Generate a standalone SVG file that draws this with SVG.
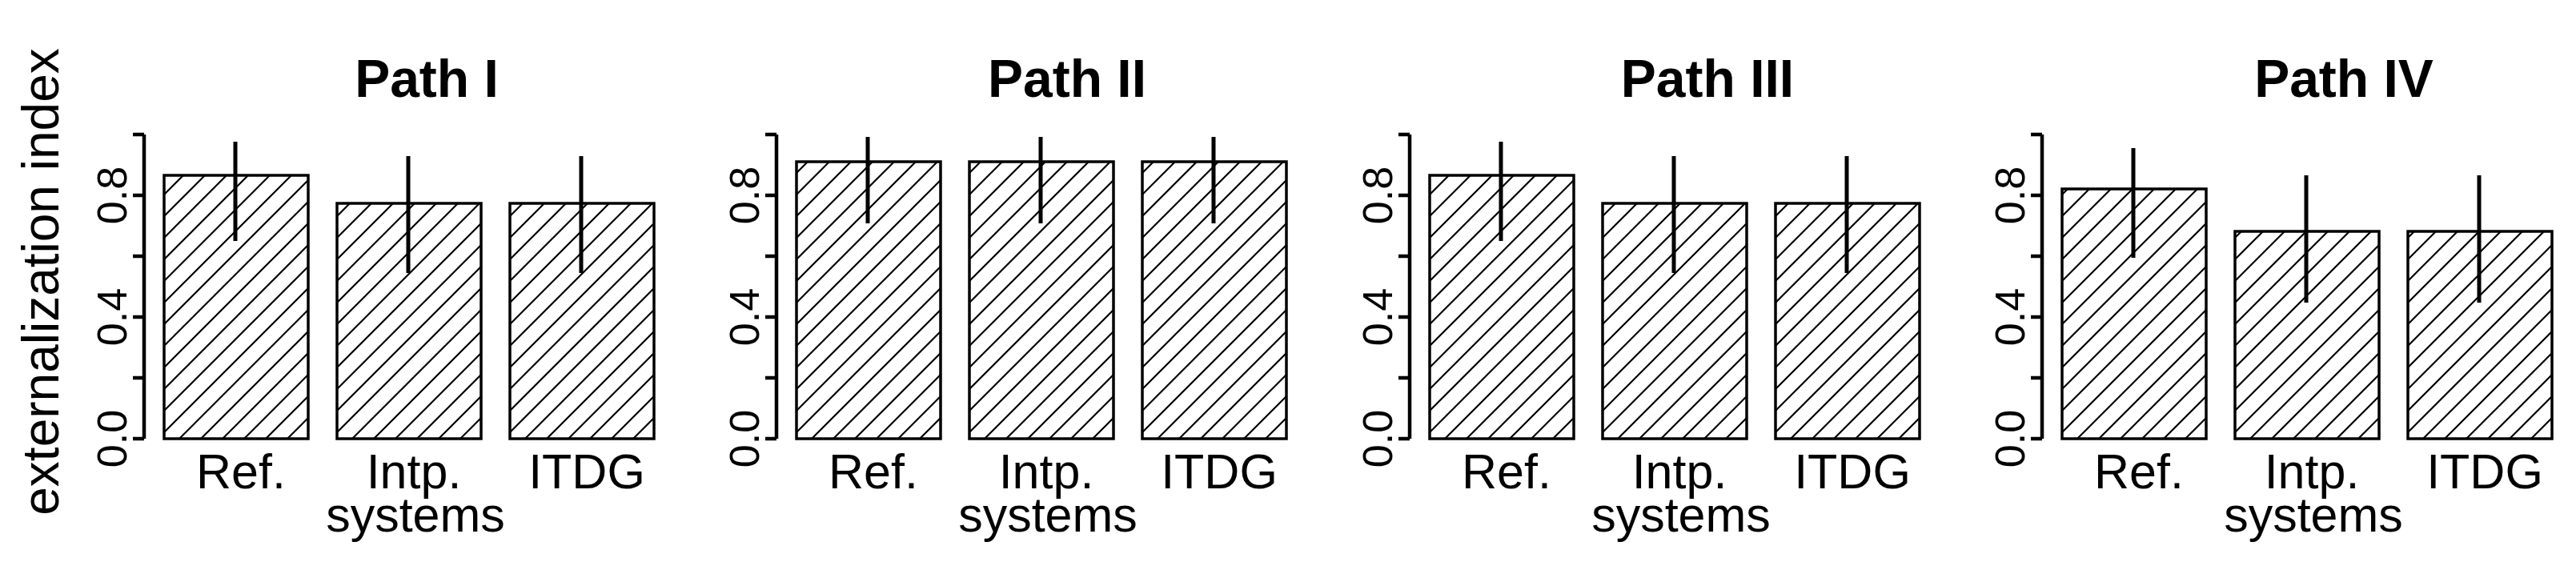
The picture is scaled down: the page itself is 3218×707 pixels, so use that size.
<svg xmlns="http://www.w3.org/2000/svg" width="3218" height="707" viewBox="0 0 3218 707">
<style>
text{font-family:"Liberation Sans",Arial,sans-serif;fill:#000}
.t{font-size:66px;font-weight:bold;text-anchor:middle}
.c{font-size:61px;text-anchor:middle}
.k{font-size:52px;text-anchor:middle}
.ax{stroke:#000;stroke-width:4.5;fill:none}
.bar{fill:url(#h);stroke:#000;stroke-width:3.5}
.err{stroke:#000;stroke-width:5}
</style>
<defs>
<pattern id="h" patternUnits="userSpaceOnUse" width="27" height="27">
<path d="M-2,29 L29,-2 M-2,2 L2,-2 M25,29 L29,25" stroke="#000" stroke-width="2.2"/>
</pattern>
<g id="axis">
<path class="ax" d="M0,168 V548 M-14,168 H0 M-14,244 H0 M-14,320 H0 M-14,396 H0 M-14,472 H0 M-14,548 H0"/>
<text class="k" transform="translate(-22,548) rotate(-90)">0.0</text>
<text class="k" transform="translate(-22,396) rotate(-90)">0.4</text>
<text class="k" transform="translate(-22,244) rotate(-90)">0.8</text>
</g>
<g id="cats">
<text class="c" x="96" y="610">Ref.</text>
<text class="c" x="312" y="610">Intp.</text>
<text class="c" x="314" y="664">systems</text>
<text class="c" x="528" y="610">ITDG</text>
</g>
</defs>
<text transform="translate(73,352) rotate(-90)" style="font-size:64px;text-anchor:middle">externalization index</text>

<g id="panel1" transform="translate(205,0)">
<use href="#axis" x="-25"/>
<rect class="bar" x="0" y="219" width="180" height="329"/>
<rect class="bar" x="216" y="254" width="180" height="294"/>
<rect class="bar" x="432" y="254" width="180" height="294"/>
<path class="err" d="M89,177 V301 M305,195 V341 M521,195 V341"/>
<use href="#cats"/>
<text class="t" x="328" y="121">Path I</text>
</g>
<g id="panel2" transform="translate(995,0)">
<use href="#axis" x="-25"/>
<rect class="bar" x="0" y="202" width="180" height="346"/>
<rect class="bar" x="216" y="202" width="180" height="346"/>
<rect class="bar" x="432" y="202" width="180" height="346"/>
<path class="err" d="M89,171 V279 M305,171 V279 M521,171 V279"/>
<use href="#cats"/>
<text class="t" x="338" y="121">Path II</text>
</g>
<g id="panel3" transform="translate(1786,0)">
<use href="#axis" x="-25"/>
<rect class="bar" x="0" y="219" width="180" height="329"/>
<rect class="bar" x="216" y="254" width="180" height="294"/>
<rect class="bar" x="432" y="254" width="180" height="294"/>
<path class="err" d="M89,177 V301 M305,195 V341 M521,195 V341"/>
<use href="#cats"/>
<text class="t" x="347" y="121">Path III</text>
</g>
<g id="panel4" transform="translate(2576,0)">
<use href="#axis" x="-25"/>
<rect class="bar" x="0" y="236" width="180" height="312"/>
<rect class="bar" x="216" y="289" width="180" height="259"/>
<rect class="bar" x="432" y="289" width="180" height="259"/>
<path class="err" d="M89,185 V322 M305,219 V378 M521,219 V378"/>
<use href="#cats"/>
<text class="t" x="352" y="121">Path IV</text>
</g>
<g id="connectors"/>
</svg>
